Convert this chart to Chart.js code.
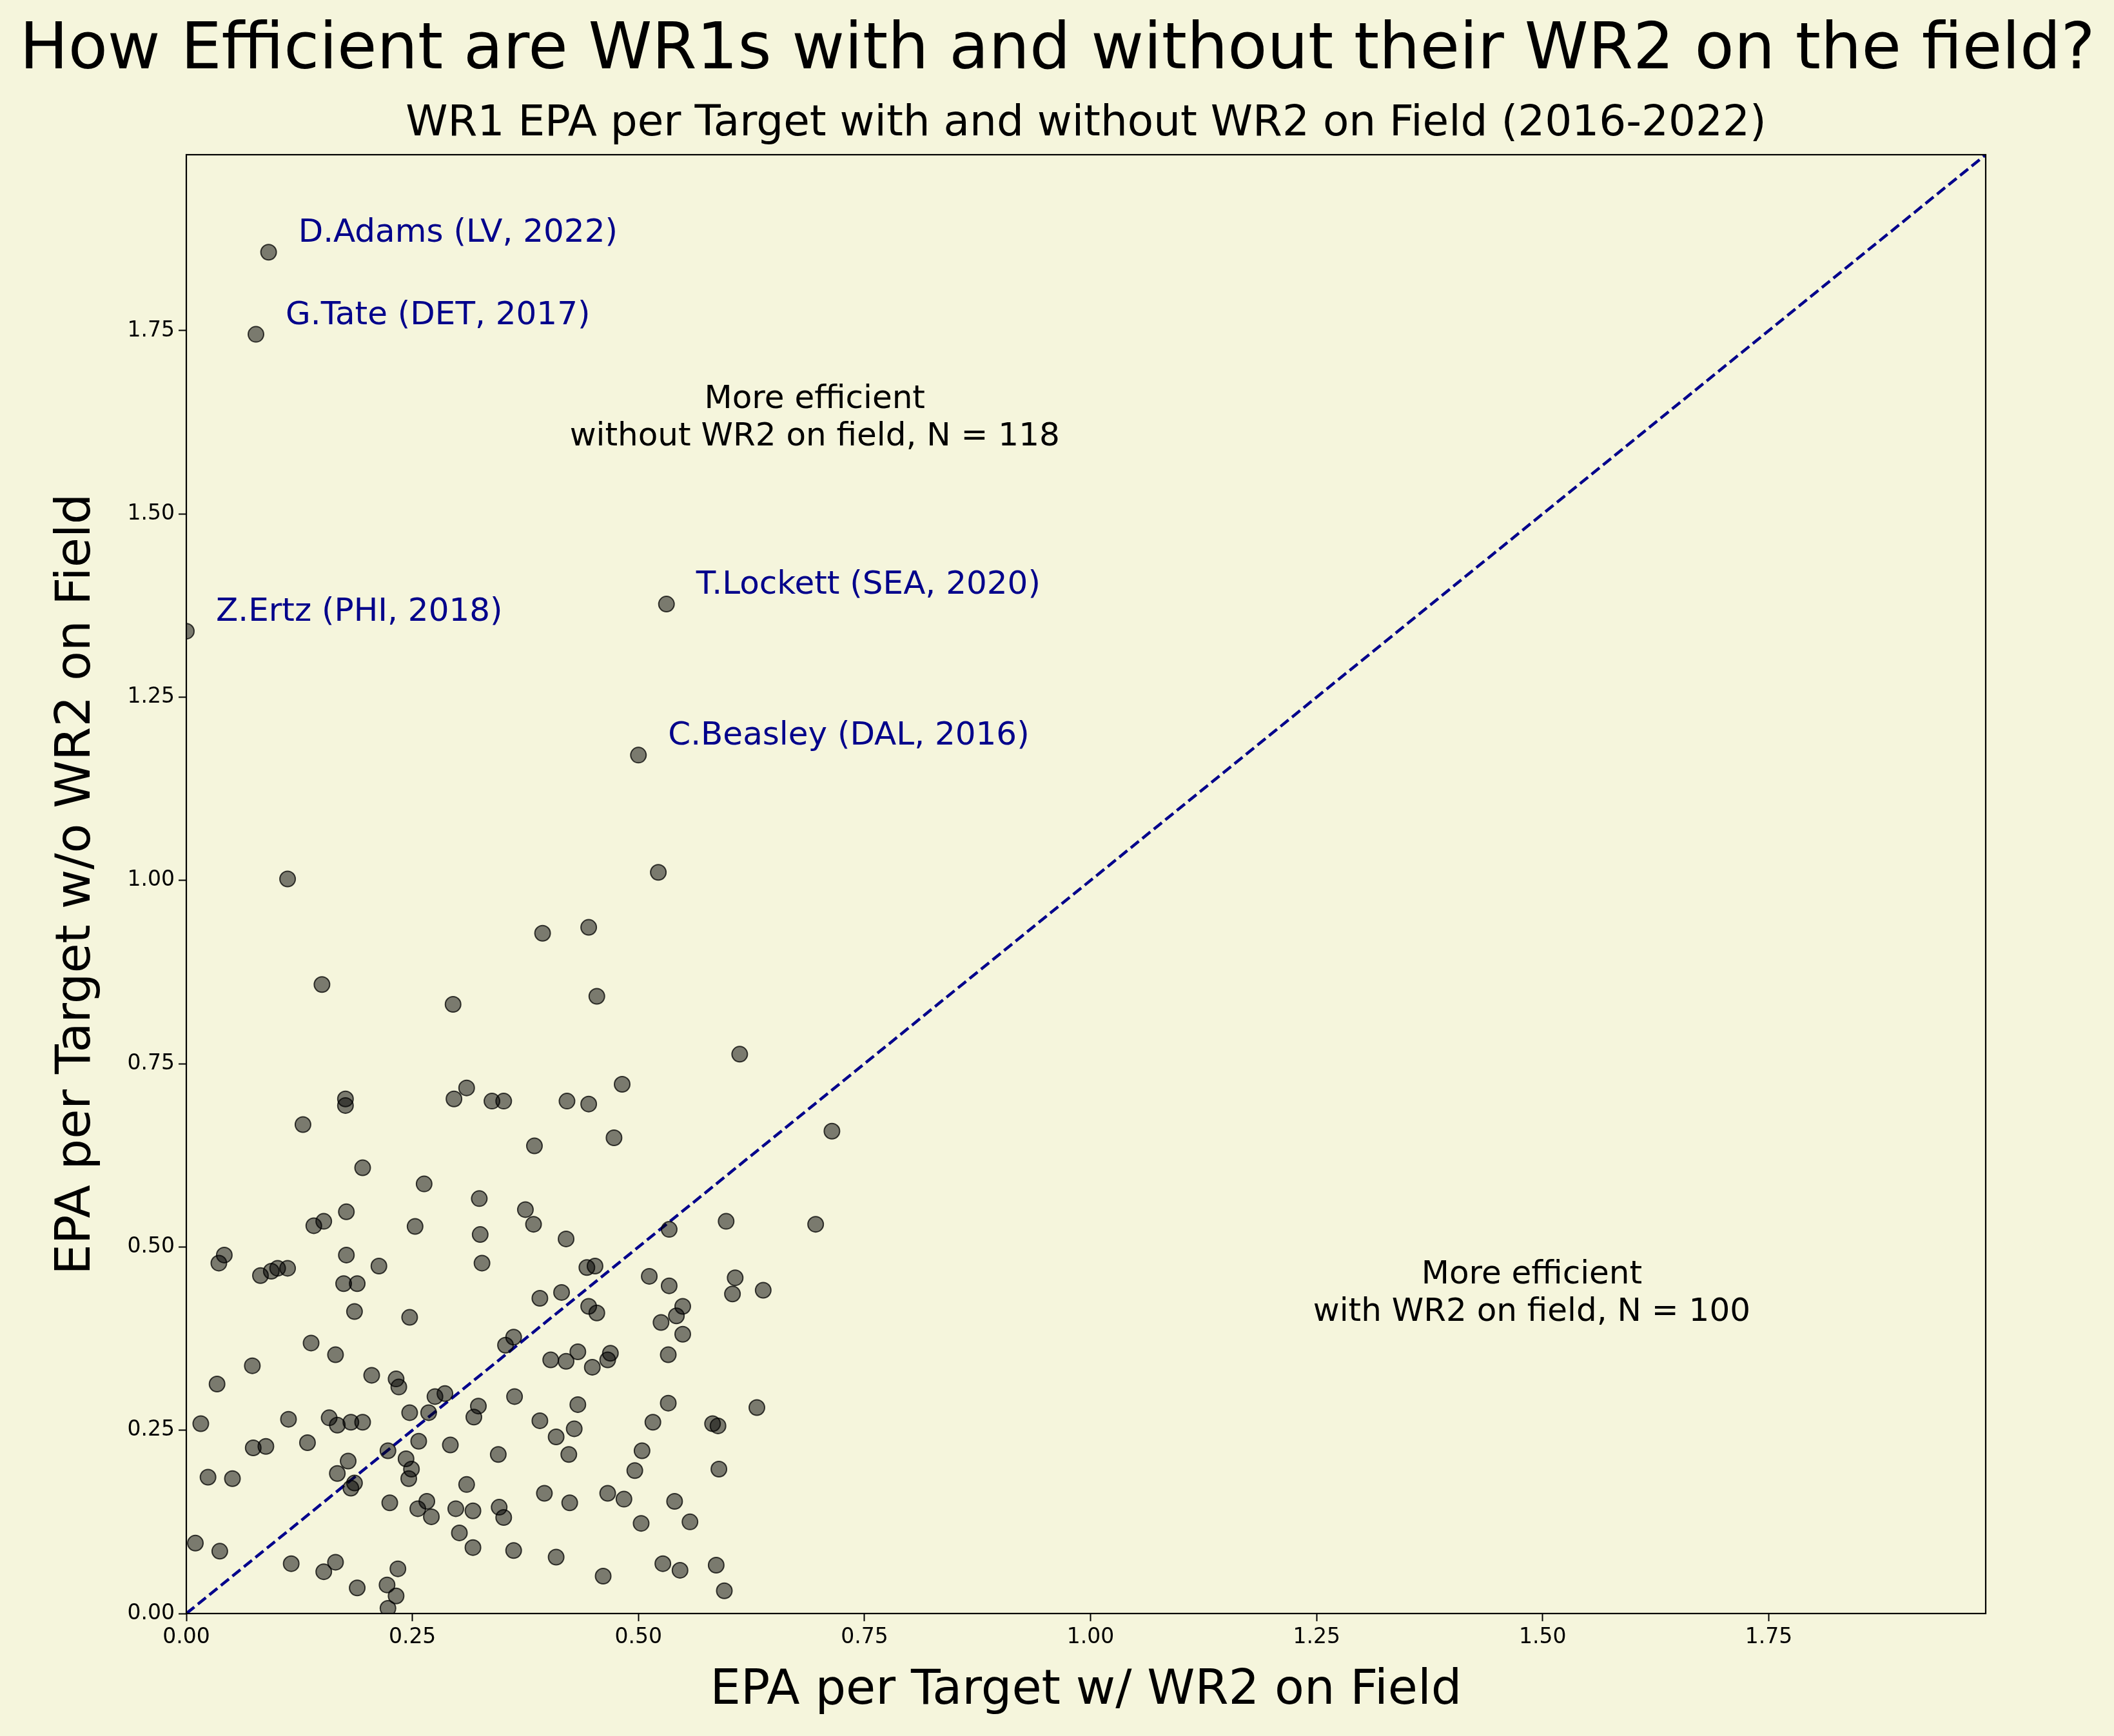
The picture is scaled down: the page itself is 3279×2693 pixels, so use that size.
<!DOCTYPE html>
<html>
<head>
<meta charset="utf-8">
<script src="https://cdn.jsdelivr.net/npm/chart.js@4"></script>
<style>
  html, body { margin: 0; padding: 0; background: #f5f5dc; }
  #wrap { width: 3279px; height: 2693px; }
</style>
</head>
<body>
<div id="wrap"><canvas id="chart" width="3279" height="2693"></canvas></div>
<script>
// EPA per target: with WR2 on field (x) and without WR2 on field (y)
const withWR2 = [
  0.091, 0.077, 0.000, 0.531, 0.500,
  0.522, 0.112, 0.394, 0.445, 0.150, 0.454, 0.295, 0.612, 0.310, 0.482, 0.296, 0.338, 0.351, 0.421, 0.445,
  0.176, 0.176, 0.129, 0.714, 0.473, 0.385, 0.195, 0.263, 0.324, 0.375, 0.177, 0.597, 0.696, 0.152, 0.384,
  0.141, 0.253, 0.534, 0.325, 0.420, 0.177, 0.042, 0.036, 0.327, 0.213, 0.443, 0.452, 0.101, 0.112, 0.094,
  0.082, 0.512, 0.607, 0.534, 0.174, 0.189, 0.638, 0.604, 0.415, 0.391, 0.445, 0.549, 0.186, 0.454, 0.542,
  0.247, 0.525, 0.549, 0.362, 0.353, 0.138, 0.433, 0.469, 0.533, 0.165, 0.403, 0.466, 0.420, 0.449, 0.073,
  0.205, 0.232, 0.235, 0.034, 0.363, 0.275, 0.286, 0.323, 0.433, 0.533, 0.631, 0.268, 0.247, 0.318, 0.113,
  0.158, 0.391, 0.516, 0.582, 0.588, 0.016, 0.167, 0.182, 0.195, 0.429, 0.409, 0.257, 0.134, 0.292, 0.074,
  0.088, 0.223, 0.504, 0.423, 0.345, 0.243, 0.179, 0.249, 0.589, 0.496, 0.167, 0.246, 0.024, 0.051, 0.186,
  0.310, 0.182, 0.396, 0.466, 0.484, 0.540, 0.266, 0.225, 0.424, 0.256, 0.346, 0.298, 0.317, 0.271, 0.351,
  0.557, 0.503, 0.302, 0.010, 0.317, 0.362, 0.037, 0.409, 0.116, 0.165, 0.527, 0.586, 0.152, 0.234, 0.546,
  0.461, 0.222, 0.189, 0.595, 0.232, 0.223
];
const withoutWR2 = [
  1.857, 1.745, 1.340, 1.377, 1.171,
  1.011, 1.002, 0.928, 0.936, 0.858, 0.842, 0.831, 0.763, 0.717, 0.722, 0.702, 0.699, 0.699, 0.699, 0.695,
  0.702, 0.693, 0.667, 0.658, 0.649, 0.638, 0.608, 0.586, 0.566, 0.551, 0.548, 0.535, 0.531, 0.535, 0.531,
  0.529, 0.528, 0.524, 0.517, 0.511, 0.489, 0.489, 0.478, 0.478, 0.474, 0.472, 0.474, 0.471, 0.471, 0.467,
  0.461, 0.460, 0.458, 0.447, 0.450, 0.450, 0.441, 0.436, 0.438, 0.430, 0.419, 0.419, 0.412, 0.410, 0.406,
  0.404, 0.397, 0.381, 0.377, 0.366, 0.369, 0.357, 0.355, 0.353, 0.353, 0.346, 0.346, 0.344, 0.336, 0.338,
  0.325, 0.320, 0.309, 0.313, 0.296, 0.296, 0.300, 0.283, 0.285, 0.287, 0.281, 0.274, 0.274, 0.268, 0.265,
  0.267, 0.263, 0.261, 0.259, 0.256, 0.259, 0.257, 0.261, 0.261, 0.252, 0.241, 0.235, 0.233, 0.230, 0.226,
  0.228, 0.222, 0.222, 0.217, 0.217, 0.211, 0.208, 0.197, 0.197, 0.195, 0.191, 0.184, 0.186, 0.184, 0.178,
  0.176, 0.171, 0.164, 0.164, 0.156, 0.153, 0.153, 0.151, 0.151, 0.143, 0.145, 0.143, 0.140, 0.132, 0.131,
  0.125, 0.123, 0.110, 0.096, 0.090, 0.086, 0.085, 0.077, 0.068, 0.070, 0.068, 0.066, 0.057, 0.061, 0.059,
  0.051, 0.039, 0.035, 0.031, 0.024, 0.007
];
// the first five points carry a name label
const pointLabels = [
  'D.Adams (LV, 2022)', 'G.Tate (DET, 2017)', 'Z.Ertz (PHI, 2018)',
  'T.Lockett (SEA, 2020)', 'C.Beasley (DAL, 2016)'
];
const axisMax = 1.99;
const diagonal = [0, axisMax];
const notes = [
  { x: 0.695, y: 1.63, lines: ['More efficient', 'without WR2 on field, N = 118'] },
  { x: 1.488, y: 0.436, lines: ['More efficient', 'with WR2 on field, N = 100'] }
];

const FONT = "'DejaVu Sans', sans-serif";

const overlay = {
  id: 'overlay',
  afterDatasetsDraw(chart) {
    const ctx = chart.ctx;
    const xs = chart.scales.x, ys = chart.scales.y, a = chart.chartArea;
    ctx.save();
    // frame
    ctx.strokeStyle = '#000';
    ctx.lineWidth = 2.2;
    ctx.strokeRect(a.left, a.top, a.right - a.left, a.bottom - a.top);
    // titles
    ctx.fillStyle = '#000';
    ctx.textAlign = 'center';
    ctx.textBaseline = 'middle';
    ctx.font = '100px ' + FONT;
    ctx.fillText('How Efficient are WR1s with and without their WR2 on the field?', 1640, 80);
    ctx.font = '66px ' + FONT;
    ctx.fillText('WR1 EPA per Target with and without WR2 on Field (2016-2022)', (a.left + a.right) / 2, 193);
    // notes
    ctx.font = '50px ' + FONT;
    notes.forEach(n => {
      const px = xs.getPixelForValue(n.x), py = ys.getPixelForValue(n.y);
      ctx.fillText(n.lines[0], px, py - 29);
      ctx.fillText(n.lines[1], px, py + 29);
    });
    // point labels
    ctx.fillStyle = '#00008b';
    ctx.textAlign = 'left';
    ctx.font = '50px ' + FONT;
    pointLabels.forEach((t, i) => {
      ctx.fillText(t, xs.getPixelForValue(withWR2[i]) + 46, ys.getPixelForValue(withoutWR2[i]) - 29);
    });
    ctx.restore();
  }
};

const bg = {
  id: 'bg',
  beforeDraw(chart) {
    const ctx = chart.ctx;
    ctx.save();
    ctx.fillStyle = '#f5f5dc';
    ctx.fillRect(0, 0, chart.width, chart.height);
    ctx.restore();
  }
};

function quarterTicks(scale) {
  scale.ticks = [];
  for (let v = 0; v <= 1.75001; v += 0.25) scale.ticks.push({ value: Math.round(v * 100) / 100 });
}

new Chart(document.getElementById('chart'), {
  type: 'scatter',
  data: {
    datasets: [{
      data: withWR2.map((x, i) => ({ x, y: withoutWR2[i] })),
      backgroundColor: 'rgba(0,0,0,0.5)',
      borderColor: 'rgba(0,0,0,0.75)',
      borderWidth: 2,
      pointRadius: 12,
      pointHoverRadius: 12
    }, {
      type: 'line',
      data: diagonal.map(v => ({ x: v, y: v })),
      borderColor: '#00008b',
      borderWidth: 4.5,
      borderDash: [16, 7],
      pointRadius: 0,
      fill: false
    }]
  },
  options: {
    responsive: false,
    animation: false,
    devicePixelRatio: 1,
    layout: { padding: { top: 240, right: 199, left: 0, bottom: 0 } },
    plugins: { legend: { display: false }, tooltip: { enabled: false } },
    scales: {
      x: {
        type: 'linear', min: 0, max: axisMax,
        afterBuildTicks: quarterTicks,
        afterFit(s) { s.height = 190; },
        grid: { drawOnChartArea: false, color: '#000', tickLength: 12, tickWidth: 2 },
        border: { display: false },
        ticks: { color: '#000', font: { family: FONT, size: 33 }, padding: 6, maxRotation: 0,
                 callback: v => v.toFixed(2) },
        title: { display: true, text: 'EPA per Target w/ WR2 on Field', color: '#000',
                 font: { family: FONT, size: 75 }, padding: { top: 0, bottom: 24 } }
      },
      y: {
        type: 'linear', min: 0, max: axisMax,
        afterBuildTicks: quarterTicks,
        afterFit(s) { s.width = 289; },
        grid: { drawOnChartArea: false, color: '#000', tickLength: 12, tickWidth: 2 },
        border: { display: false },
        ticks: { color: '#000', font: { family: FONT, size: 33 }, padding: 6,
                 callback: v => v.toFixed(2) },
        title: { display: true, text: 'EPA per Target w/o WR2 on Field', color: '#000',
                 font: { family: FONT, size: 75 }, padding: { top: 75, bottom: 0 } }
      }
    }
  },
  plugins: [bg, overlay]
});
</script>
</body>
</html>
